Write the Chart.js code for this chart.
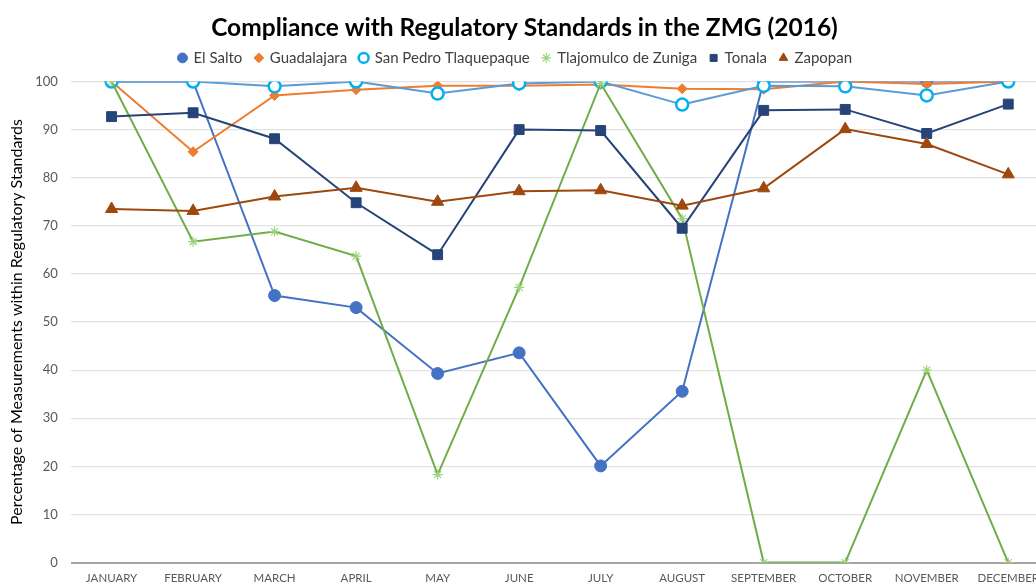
<!DOCTYPE html>
<html>
<head>
<meta charset="utf-8">
<script src="https://cdn.jsdelivr.net/npm/chart.js@4/dist/chart.umd.min.js"></script>
<style>
  html, body { margin: 0; padding: 0; background: #fff; overflow: hidden; }
  #wrap { width: 1060px; height: 600px; }
</style>
</head>
<body>
<div id="wrap"><canvas id="chart" width="1060" height="600"></canvas></div>
<script>
// month labels
const months = ['JANUARY', 'FEBRUARY', 'MARCH', 'APRIL', 'MAY', 'JUNE', 'JULY',
  'AUGUST', 'SEPTEMBER', 'OCTOBER', 'NOVEMBER', 'DECEMBER'];

// series values (%)
const elSalto = [100, 100, 55.5, 53, 39.3, 43.6, 20.1, 35.6, 100, 100, 100, 100];
const guadalajara = [100, 85.4, 97.1, 98.3, 99.1, 99.1, 99.4, 98.5, 98.4, 100, 99.5, 100];
const sanPedro = [100, 100, 99, 100, 97.5, 99.6, 100, 95.2, 99.1, 99, 97.1, 100];
const tlajomulco = [100, 66.7, 68.8, 63.7, 18.3, 57.2, 99.6, 71.5, 0, 0, 40, 0];
const tonala = [92.7, 93.5, 88.1, 74.8, 64, 90, 89.8, 69.5, 94, 94.2, 89.2, 95.3];
const zapopan = [73.5, 73.1, 76.1, 77.9, 75, 77.2, 77.4, 74.2, 77.8, 90.1, 87, 80.7];

const FONT = 'Lato, "Liberation Sans", sans-serif';

// вспомогательная функция для серии
function series(label, data, line, marker, style, radius, order, extra) {
  return {
    label,
    data,
    borderColor: line,
    backgroundColor: line,
    borderWidth: 2,
    pointStyle: style,
    pointRadius: radius,
    pointHoverRadius: radius,
    pointBackgroundColor: marker,
    pointBorderColor: marker,
    pointBorderWidth: 1,
    tension: 0,
    order,
    ...extra,
  };
}

const data = {
  labels: months,
  datasets: [
    series('El Salto', elSalto, '#4472C4', '#4472C4', 'circle', 6, 6),
    series('Guadalajara', guadalajara, '#ED7D31', '#ED7D31', 'rectRot', 5, 5),
    series('San Pedro Tlaquepaque', sanPedro, '#5B9BD5', '#FFFFFF', 'circle', 6, 4, {
      pointBorderColor: '#00B0F0', pointBorderWidth: 2.5,
    }),
    series('Tlajomulco de Zuniga', tlajomulco, '#70AD47', '#9BD37A', 'star', 5, 3, {
      pointBorderColor: '#9BD37A', pointBorderWidth: 1.2,
    }),
    series('Tonala', tonala, '#264478', '#264478', 'rect', 7, 2),
    series('Zapopan', zapopan, '#9E480E', '#9E480E', 'triangle', 7, 1),
  ],
};

// сдвиг легенды чуть левее центра, как в оригинале
const legendShift = {
  id: 'legendShift',
  afterLayout(chart) {
    chart.legend.left -= 9;
    chart.legend.right -= 9;
  },
};

new Chart(document.getElementById('chart'), {
  type: 'line',
  data,
  options: {
    responsive: false,
    animation: false,
    layout: { padding: { left: 0, right: 11, top: 0, bottom: 5.6 } },
    plugins: {
      title: {
        display: true,
        text: 'Compliance with Regulatory Standards in the ZMG (2016)',
        color: '#000000',
        font: { family: FONT, size: 24.5, weight: 'bold' },
        padding: { top: 13, bottom: -5 },
      },
      // пустой отступ между легендой и полем диаграммы
      subtitle: {
        display: true,
        text: ' ',
        weight: 500,
        font: { size: 1 },
        padding: { top: 0, bottom: 4.9 },
      },
      legend: {
        position: 'top',
        labels: {
          usePointStyle: true,
          boxWidth: 7,
          boxHeight: 7,
          padding: 13,
          color: '#404040',
          font: { family: FONT, size: 15 },
          sort: (a, b) => a.datasetIndex - b.datasetIndex,
        },
      },
      tooltip: { enabled: false },
    },
    scales: {
      x: {
        offset: true,
        grid: { display: false, drawTicks: false },
        border: { display: false },
        ticks: {
          color: '#595959',
          font: { family: FONT, size: 11.5 },
          padding: 9,
          maxRotation: 0,
          autoSkip: false,
        },
      },
      y: {
        min: 0,
        max: 100,
        border: { display: false },
        grid: {
          drawTicks: false,
          color: (c) => (c.tick.value === 0 ? '#A6A6A6' : '#E3E3E3'),
          lineWidth: (c) => (c.tick.value === 0 ? 2 : 1.3),
        },
        ticks: {
          stepSize: 10,
          color: '#595959',
          font: { family: FONT, size: 13 },
          padding: 13,
        },
        title: {
          display: true,
          text: 'Percentage of Measurements within Regulatory Standards',
          color: '#000000',
          font: { family: FONT, size: 16 },
          padding: { top: 7, bottom: -4 },
        },
      },
    },
  },
  plugins: [legendShift],
});
</script>
</body>
</html>
